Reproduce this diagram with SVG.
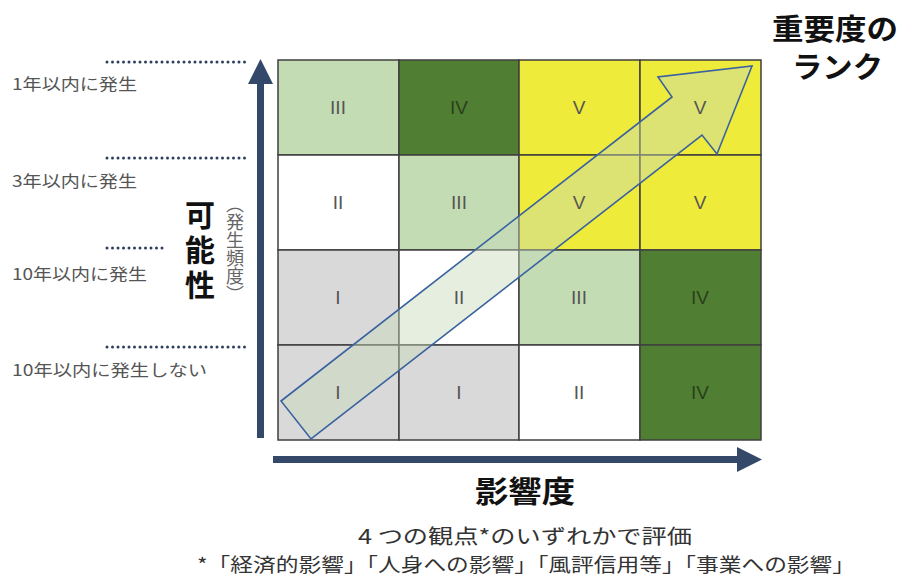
<svg xmlns="http://www.w3.org/2000/svg" width="903" height="580" viewBox="0 0 903 580">
<defs>
<style>
.cell{stroke:#3f3f3f;stroke-width:1.5}
.lg{fill:#C4DCB4}.dg{fill:#507E32}.ye{fill:#EFEB3A}.gy{fill:#D9D9D9}.wh{fill:#FFFFFF}
.num{font-family:"Liberation Sans","Noto Sans",sans-serif;font-size:19px;fill:#555;text-anchor:middle}
.numd{fill:#2a3f1c}
.lab{font-family:"Noto Sans CJK JP","Noto Sans",sans-serif;font-size:16px;fill:#555}
.dot{stroke:#2E3F5C;stroke-width:3;stroke-linecap:round;stroke-dasharray:0 5.5;fill:none}
.big{font-family:"Noto Sans CJK JP",sans-serif;font-weight:bold;fill:#111}
.note{font-family:"Noto Sans CJK JP",sans-serif;fill:#333}
.axis{fill:#34496A}
.vsub{font-family:"Noto Sans CJK JP",sans-serif;font-size:18px;fill:#666;writing-mode:vertical-rl;text-spacing-trim:space-all}
</style>
</defs>
<rect width="903" height="580" fill="#fff"/>
<g id="grid">
<rect class="cell lg" x="278" y="60" width="121" height="95"/>
<rect class="cell dg" x="399" y="60" width="120" height="95"/>
<rect class="cell ye" x="519" y="60" width="121" height="95"/>
<rect class="cell ye" x="640" y="60" width="121" height="95"/>
<rect class="cell wh" x="278" y="155" width="121" height="95"/>
<rect class="cell lg" x="399" y="155" width="120" height="95"/>
<rect class="cell ye" x="519" y="155" width="121" height="95"/>
<rect class="cell ye" x="640" y="155" width="121" height="95"/>
<rect class="cell gy" x="278" y="250" width="121" height="95"/>
<rect class="cell wh" x="399" y="250" width="120" height="95"/>
<rect class="cell lg" x="519" y="250" width="121" height="95"/>
<rect class="cell dg" x="640" y="250" width="121" height="95"/>
<rect class="cell gy" x="278" y="345" width="121" height="95"/>
<rect class="cell gy" x="399" y="345" width="120" height="95"/>
<rect class="cell wh" x="519" y="345" width="121" height="95"/>
<rect class="cell dg" x="640" y="345" width="121" height="95"/>
</g>
<g id="rank-arrow">
<polygon points="281,401 672,97 658,77 752,66 717,154 702,135 311,439" fill="#C8DABA" fill-opacity="0.45" stroke="#3A62A0" stroke-width="1.6" stroke-linejoin="miter"/>
</g>
<g id="numerals">
<text class="num" x="338" y="114">III</text>
<text class="num numd" x="459" y="114">IV</text>
<text class="num" x="579" y="114">V</text>
<text class="num" x="700" y="114">V</text>
<text class="num" x="338" y="209">II</text>
<text class="num" x="459" y="209">III</text>
<text class="num" x="579" y="209">V</text>
<text class="num" x="700" y="209">V</text>
<text class="num" x="338" y="304">I</text>
<text class="num" x="459" y="304">II</text>
<text class="num" x="579" y="304">III</text>
<text class="num numd" x="700" y="304">IV</text>
<text class="num" x="338" y="399">I</text>
<text class="num" x="459" y="399">I</text>
<text class="num" x="579" y="399">II</text>
<text class="num numd" x="700" y="399">IV</text>
</g>
<g id="axes">
<rect class="axis" x="257" y="80" width="7" height="358"/>
<polygon class="axis" points="260.5,59 248,84 273,84"/>
<rect class="axis" x="273" y="456" width="466" height="7"/>
<polygon class="axis" points="762,459.5 737,447 737,472"/>
</g>
<g id="levels">
<line class="dot" x1="107" y1="62" x2="250" y2="62"/>
<line class="dot" x1="107" y1="158" x2="250" y2="158"/>
<line class="dot" x1="107" y1="248" x2="163" y2="248"/>
<line class="dot" x1="107" y1="347" x2="250" y2="347"/>
<text class="lab" x="12" y="90" textLength="125" lengthAdjust="spacingAndGlyphs">1年以内に発生</text>
<text class="lab" x="12" y="187" textLength="125" lengthAdjust="spacingAndGlyphs">3年以内に発生</text>
<text class="lab" x="12" y="280" textLength="135" lengthAdjust="spacingAndGlyphs">10年以内に発生</text>
<text class="lab" x="12" y="376" textLength="195" lengthAdjust="spacingAndGlyphs">10年以内に発生しない</text>
</g>
<g id="y-title">
<text class="big" x="200" y="200" font-size="30" writing-mode="vertical-rl" letter-spacing="5">可能性</text>
<text class="vsub" x="235" y="195">（発生頻度）</text>
</g>
<g id="x-title">
<text class="big" x="475" y="502" font-size="30" textLength="100" lengthAdjust="spacingAndGlyphs">影響度</text>
</g>
<g id="rank-title">
<text class="big" x="772" y="40" font-size="29" textLength="126" lengthAdjust="spacingAndGlyphs">重要度の</text>
<text class="big" x="792" y="78" font-size="29" textLength="91" lengthAdjust="spacingAndGlyphs">ランク</text>
</g>
<g id="notes">
<text class="note" x="358" y="544" font-size="20" textLength="334" lengthAdjust="spacingAndGlyphs">4 つの観点*のいずれかで評価</text>
<text class="note" x="197" y="572" font-size="19" textLength="658" lengthAdjust="spacingAndGlyphs">*「経済的影響」「人身への影響」「風評信用等」「事業への影響」</text>
</g>
</svg>
